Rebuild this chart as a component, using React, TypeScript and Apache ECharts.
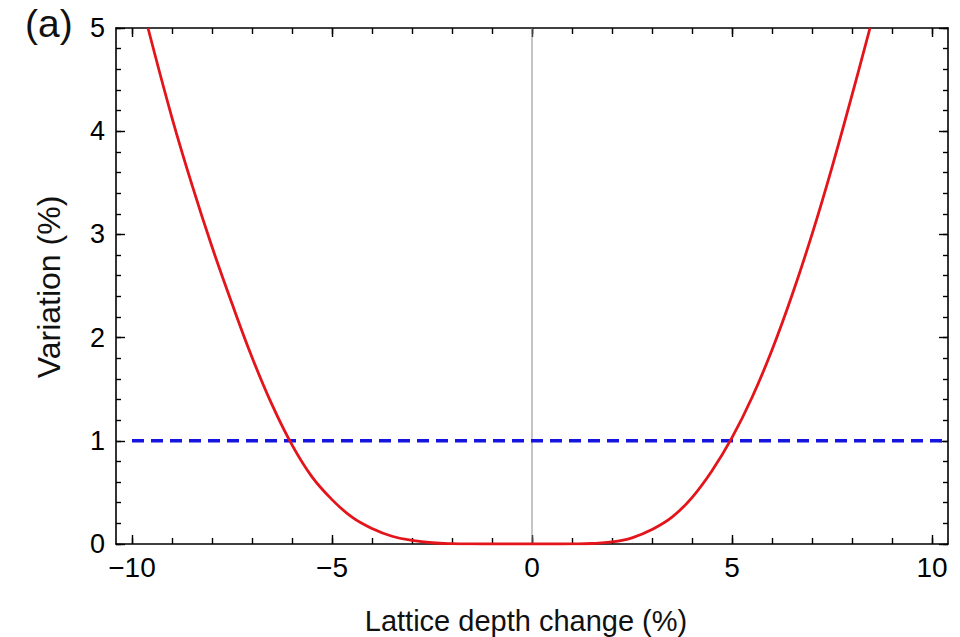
import React, { useEffect, useRef } from "react";
import * as echarts from "echarts";

const curveX = [-9.6, -9.0, -8.5, -8.0, -7.5, -7.0, -6.5, -6.0, -5.5, -5.0, -4.5, -4.0, -3.5, -3.0, -2.5, -2.0, -1.5, -1.0, -0.5, 0.0, 0.5, 1.0, 1.5, 2.0, 2.5, 3.0, 3.5, 4.0, 4.5, 5.0, 5.5, 6.0, 6.5, 7.0, 7.5, 8.0, 8.45];
const curveY = [5.0, 4.13, 3.48, 2.88, 2.33, 1.81, 1.35, 0.96, 0.65, 0.43, 0.26, 0.15, 0.075, 0.035, 0.012, 0.003, 0.0005, 0.0, 0.0, 0.0, 0.0, 0.001, 0.005, 0.02, 0.06, 0.14, 0.26, 0.45, 0.71, 1.03, 1.42, 1.88, 2.41, 3.0, 3.65, 4.35, 5.0];

const thresholdX = [-10, 10.4];
const thresholdY = [1, 1];

const xMinorTicks = [-10, -9, -8, -7, -6, -5, -4, -3, -2, -1, 0, 1, 2, 3, 4, 5, 6, 7, 8, 9, 10];
const xMajorTicks = [-10, -5, 0, 5, 10];
const yMinorTicks = [0, 0.2, 0.4, 0.6, 0.8, 1, 1.2, 1.4, 1.6, 1.8, 2, 2.2, 2.4, 2.6, 2.8, 3, 3.2, 3.4, 3.6, 3.8, 4, 4.2, 4.4, 4.6, 4.8, 5];
const yMajorTicks = [0, 1, 2, 3, 4, 5];

const X_MIN = -10.4;
const X_MAX = 10.4;
const Y_MIN = 0;
const Y_MAX = 5;

const FONT = "'Liberation Sans', Arial, Helvetica, sans-serif";

export default function App() {
  const ref = useRef<HTMLDivElement>(null);
  useEffect(() => {
    if (!ref.current) return;
    const chart = echarts.init(ref.current, undefined, { renderer: "svg" });
    const lineStyle = { color: "#000", width: 1.6 };
    const fmt = (v: number) => (v < 0 ? "\u2212" + Math.abs(v) : String(v));
    const mkX = (pos: "top" | "bottom", ticks: number[], len: number, labels: boolean, line: boolean) => ({
      type: "value",
      position: pos,
      min: X_MIN,
      max: X_MAX,
      splitLine: { show: false },
      axisLine: { show: line, onZero: false, lineStyle },
      axisTick: { show: true, inside: true, length: len, customValues: ticks, lineStyle: { color: "#000", width: 1.4 } },
      axisLabel: labels
        ? { show: true, customValues: xMajorTicks, formatter: fmt, fontSize: 28, color: "#000", fontFamily: FONT, margin: 9 }
        : { show: false },
    });
    const mkY = (pos: "left" | "right", ticks: number[], len: number, labels: boolean, line: boolean) => ({
      type: "value",
      position: pos,
      min: Y_MIN,
      max: Y_MAX,
      splitLine: { show: false },
      axisLine: { show: line, onZero: false, lineStyle },
      axisTick: { show: true, inside: true, length: len, customValues: ticks, lineStyle: { color: "#000", width: 1.4 } },
      axisLabel: labels
        ? { show: true, customValues: yMajorTicks, fontSize: 27, color: "#000", fontFamily: FONT, margin: 11 }
        : { show: false },
    });
    chart.setOption({
      animation: false,
      backgroundColor: "#fff",
      grid: { left: 116, top: 28, right: 12, bottom: 93, containLabel: false },
      xAxis: [
        mkX("bottom", xMinorTicks, 6, true, true),
        mkX("bottom", xMajorTicks, 9, false, false),
        mkX("top", xMinorTicks, 6, false, true),
        mkX("top", xMajorTicks, 9, false, false),
      ],
      yAxis: [
        mkY("left", yMinorTicks, 5, true, true),
        mkY("left", yMajorTicks, 9, false, false),
        mkY("right", yMinorTicks, 5, false, true),
        mkY("right", yMajorTicks, 9, false, false),
      ],
      series: [
        {
          type: "line",
          xAxisIndex: 0,
          yAxisIndex: 0,
          data: [[0, Y_MIN], [0, Y_MAX]],
          showSymbol: false,
          lineStyle: { color: "#8a8a8a", width: 1 },
          silent: true,
          z: 1,
        },
        {
          type: "line",
          xAxisIndex: 0,
          yAxisIndex: 0,
          data: thresholdX.map((x, i) => [x, thresholdY[i]]),
          showSymbol: false,
          lineStyle: { color: "#1515e0", width: 3.5, type: [12, 7] },
          z: 3,
        },
        {
          type: "line",
          xAxisIndex: 0,
          yAxisIndex: 0,
          data: curveX.map((x, i) => [x, curveY[i]]),
          smooth: 0.4,
          showSymbol: false,
          lineStyle: { color: "#e4141b", width: 2.8 },
          z: 4,
        },
      ],
      graphic: [
        {
          type: "text",
          left: 25,
          top: 4,
          style: { text: "(a)", fontSize: 39, fontFamily: FONT, fill: "#111" },
        },
        {
          type: "text",
          x: 526,
          y: 621,
          style: { text: "Lattice depth change (%)", fontSize: 29, fontFamily: FONT, fill: "#111", align: "center", verticalAlign: "middle" },
        },
        {
          type: "text",
          x: 49,
          y: 287,
          rotation: Math.PI / 2,
          style: { text: "Variation (%)", fontSize: 32, fontFamily: FONT, fill: "#111", align: "center", verticalAlign: "middle" },
        },
      ],
    });
    return () => chart.dispose();
  }, []);
  return <div ref={ref} style={{ width: 960, height: 637, position: "fixed", left: 0, top: 0 }} />;
}
